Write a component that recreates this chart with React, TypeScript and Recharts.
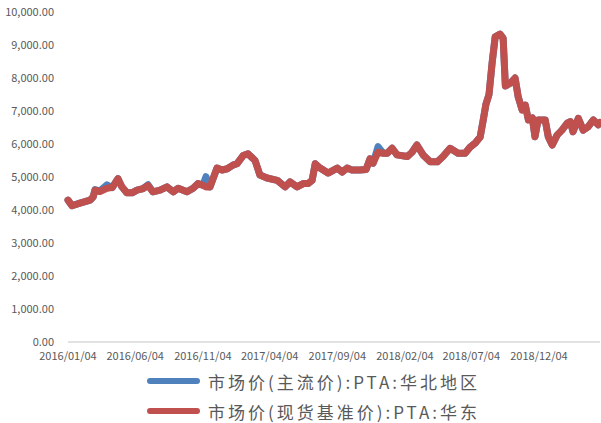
import React from 'react'
import { LineChart, Line, XAxis, YAxis } from 'recharts'

const dates = [
  '2016/01/04', '2016/01/13', '2016/01/31', '2016/02/23', '2016/03/01', '2016/03/05', '2016/03/16',
  '2016/04/01', '2016/04/13', '2016/04/26', '2016/05/05', '2016/05/16', '2016/05/28', '2016/06/08',
  '2016/06/22', '2016/07/03', '2016/07/14', '2016/07/30', '2016/08/15', '2016/08/29', '2016/09/09',
  '2016/09/29', '2016/10/13', '2016/10/24', '2016/11/04', '2016/11/11', '2016/11/20', '2016/12/06',
  '2016/12/17', '2016/12/29', '2017/01/11', '2017/01/20', '2017/02/03', '2017/02/14', '2017/03/02',
  '2017/03/13', '2017/03/29', '2017/04/21', '2017/05/09', '2017/05/20', '2017/06/05', '2017/06/19',
  '2017/06/30', '2017/07/09', '2017/07/16', '2017/07/27', '2017/08/14', '2017/09/04', '2017/09/15',
  '2017/09/26', '2017/10/07', '2017/10/25', '2017/11/08', '2017/11/17', '2017/11/24', '2017/12/05',
  '2017/12/17', '2017/12/26', '2018/01/06', '2018/01/17', '2018/02/09', '2018/02/20', '2018/03/03',
  '2018/03/17', '2018/04/02', '2018/04/18', '2018/05/01', '2018/05/17', '2018/06/04', '2018/06/20',
  '2018/07/01', '2018/07/13', '2018/07/24', '2018/07/31', '2018/08/06', '2018/08/13', '2018/08/20',
  '2018/08/27', '2018/09/07', '2018/09/14', '2018/09/19', '2018/09/30', '2018/10/11', '2018/10/18',
  '2018/10/27', '2018/11/03', '2018/11/10', '2018/11/19', '2018/11/25', '2018/12/02', '2018/12/18',
  '2018/12/25', '2019/01/03', '2019/01/14', '2019/01/25', '2019/02/06', '2019/02/13', '2019/02/19',
  '2019/03/03', '2019/03/14', '2019/03/25', '2019/04/06', '2019/04/17', '2019/04/21',
]

// 市场价(现货基准价):PTA:华东
const huadong = [
  4300, 4130, 4210, 4300, 4400, 4600, 4560,
  4660, 4680, 4950, 4700, 4520, 4520, 4600,
  4650, 4740, 4550, 4600, 4700, 4550, 4660,
  4550, 4660, 4800, 4750, 4700, 4700, 5270,
  5210, 5250, 5360, 5400, 5650, 5700, 5500,
  5060, 4970, 4900, 4700, 4850, 4700, 4800,
  4800, 4900, 5400, 5270, 5120, 5270, 5150,
  5270, 5210, 5210, 5230, 5550, 5420, 5750,
  5720, 5720, 5870, 5670, 5620, 5750, 5970,
  5670, 5460, 5460, 5620, 5870, 5720, 5720,
  5900, 6030, 6210, 6730, 7200, 7500, 8450,
  9250, 9330, 9200, 7760, 7840, 8000, 7430,
  7030, 7180, 6730, 6790, 6220, 6730, 6730,
  6220, 5970, 6270, 6420, 6630, 6680, 6370,
  6780, 6420, 6520, 6730, 6580, 6650,
]

// 市场价(主流价):PTA:华北地区
const huabei = [
  4300, 4130, 4210, 4300, 4400, 4620, 4580,
  4760, 4680, 4950, 4700, 4520, 4520, 4600,
  4650, 4770, 4550, 4600, 4700, 4550, 4660,
  4550, 4660, 4800, 4750, 5010, 4700, 5270,
  5210, 5250, 5360, 5400, 5650, 5700, 5500,
  5060, 4970, 4900, 4700, 4850, 4700, 4800,
  4800, 4900, 5400, 5270, 5120, 5270, 5150,
  5270, 5210, 5210, 5230, 5550, 5420, 5920,
  5720, 5720, 5870, 5670, 5620, 5750, 5970,
  5670, 5460, 5460, 5620, 5870, 5720, 5720,
  5900, 6030, 6210, 6730, 7200, 7500, 8450,
  9250, 9330, 9200, 7760, 7840, 8000, 7430,
  7030, 7180, 6730, 6790, 6220, 6730, 6730,
  6220, 5970, 6270, 6420, 6630, 6680, 6370,
  6780, 6420, 6520, 6730, 6580, 6650,
]

const xTickLabels = [
  '2016/01/04', '2016/06/04', '2016/11/04', '2017/04/04',
  '2017/09/04', '2018/02/04', '2018/07/04', '2018/12/04',
]

const yTicks = [0, 1000, 2000, 3000, 4000, 5000, 6000, 7000, 8000, 9000, 10000]

const toTime = (s: string) => {
  const [y, m, d] = s.split('/').map(Number)
  return Date.UTC(y, m - 1, d)
}

const pad = (n: number) => (n < 10 ? '0' + n : '' + n)
const fmtDate = (t: number) => {
  const d = new Date(t)
  return `${d.getUTCFullYear()}/${pad(d.getUTCMonth() + 1)}/${pad(d.getUTCDate())}`
}
const fmtNum = (v: number) =>
  v.toLocaleString('en-US', { minimumFractionDigits: 2, maximumFractionDigits: 2 })

const data = dates.map((d, i) => ({ t: toTime(d), huabei: huabei[i], huadong: huadong[i] }))

const FONT = '"Noto Sans CJK SC", "Noto Sans", sans-serif'
const BLUE = '#4F81BD'
const RED = '#C0504D'

const legendItems = [
  { name: '市场价(主流价):PTA:华北地区', color: BLUE },
  { name: '市场价(现货基准价):PTA:华东', color: RED },
]

const App: React.FC = () => {
  return (
    <div style={{ position: 'relative', width: 601, height: 423, fontFamily: FONT, background: '#fff' }}>
      <style>{'body{margin:0}'}</style>
      <LineChart
        width={601}
        height={365}
        data={data}
        margin={{ top: 12, right: 1, left: 0, bottom: 0 }}
      >
        <XAxis
          dataKey="t"
          type="number"
          domain={[toTime(dates[0]), toTime(dates[dates.length - 1])]}
          ticks={xTickLabels.map(toTime)}
          tickFormatter={fmtDate}
          height={23}
          stroke="#d9d9d9"
          strokeWidth={1.5}
          tickLine={false}
          tickSize={0}
          tickMargin={10}
          tick={{ fill: '#595959', fontSize: 11, fontFamily: FONT }}
          interval={0}
        />
        <YAxis
          type="number"
          domain={[0, 10000]}
          ticks={yTicks}
          tickFormatter={fmtNum}
          width={68}
          axisLine={false}
          tickLine={false}
          tickSize={0}
          tickMargin={14}
          tick={{ fill: '#595959', fontSize: 11, fontFamily: FONT }}
          interval={0}
        />
        <Line
          dataKey="huabei"
          stroke={BLUE}
          strokeWidth={7}
          dot={false}
          strokeLinejoin="round"
          strokeLinecap="round"
          isAnimationActive={false}
        />
        <Line
          dataKey="huadong"
          stroke={RED}
          strokeWidth={7}
          dot={false}
          strokeLinejoin="round"
          strokeLinecap="round"
          isAnimationActive={false}
        />
      </LineChart>
      <div style={{ position: 'absolute', left: 147, top: 366 }}>
        {legendItems.map((it) => (
          <div key={it.name} style={{ display: 'flex', alignItems: 'center', height: 30 }}>
            <div style={{ width: 53, height: 6, borderRadius: 3, background: it.color, marginRight: 8 }} />
            <span style={{ fontSize: 17, color: '#595959', letterSpacing: 3, whiteSpace: 'nowrap' }}>{it.name}</span>
          </div>
        ))}
      </div>
    </div>
  )
}

export default App
